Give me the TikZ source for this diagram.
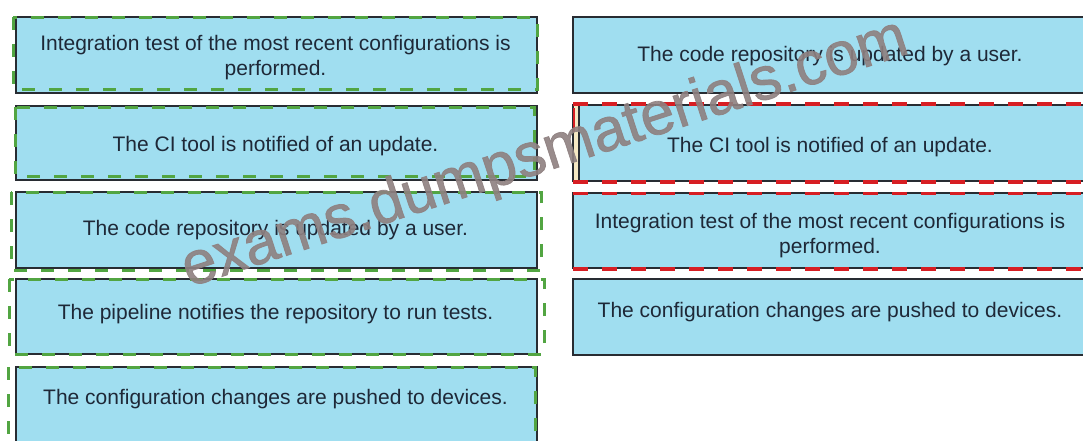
\documentclass[tikz,border=0pt]{standalone}
\usepackage{fontspec}
\setmainfont{Liberation Sans}
\newfontfamily\wmfont[FakeBold=1.2]{Liberation Sans}
\definecolor{cardfill}{RGB}{160,222,240}
\definecolor{cardline}{RGB}{40,44,50}
\definecolor{ink}{RGB}{30,40,55}
\definecolor{dashgreen}{RGB}{82,165,66}
\definecolor{dashred}{RGB}{215,30,35}
\definecolor{stripyellow}{RGB}{245,232,195}
\definecolor{wmgray}{RGB}{142,128,128}
\tikzset{
  card/.style={draw=cardline, fill=cardfill, line width=1.3pt, rectangle, inner sep=0pt},
  leftcard/.style={card, minimum width=521pt, minimum height=76pt},
  rightcard/.style={card, minimum width=514pt, minimum height=76pt},
  lbl/.style={text=ink, font=\fontsize{21}{25}\selectfont, inner sep=0pt, anchor=base, align=center},
  greendash/.style={draw=dashgreen, line width=3pt, dash pattern=on 13pt off 14pt},
  reddash/.style={draw=dashred, line width=3.4pt, dash pattern=on 15pt off 14pt},
  watermark/.style={text=wmgray, opacity=0.9, font=\wmfont\fontsize{61}{61}\selectfont, inner sep=0pt, anchor=base, rotate=18},
}
\begin{document}
\begin{tikzpicture}[x=1pt,y=-1pt]
\useasboundingbox (0,0) rectangle (1083,440);
\fill[white] (0,0) rectangle (1083,440);
\clip (0,0) rectangle (1083,440);

% left column
\node[leftcard] (L1) at (276.5,55) {};
\node[leftcard, minimum height=74pt] (L2) at (276.5,143) {};
\node[leftcard] (L3) at (276.5,230) {};
\node[leftcard, minimum height=75pt] (L4) at (276.5,316.5) {};
\node[leftcard] (L5) at (276.5,405) {};

\draw[greendash] (13,17) rectangle (537,89);
\draw[greendash] (15,107) rectangle (534,176);
\draw[greendash] (11,192) rectangle (541,270);
\draw[greendash] (9,279) rectangle (544,354);
\draw[greendash] (8,367) rectangle (535,446);

\node[lbl] (L1t) at (275.5,75) {Integration test of the most recent configurations is\\performed.};
\node[lbl] (L2t) at (275.5,151) {The CI tool is notified of an update.};
\node[lbl] (L3t) at (275.5,235) {The code repository is updated by a user.};
\node[lbl] (L4t) at (275.5,319) {The pipeline notifies the repository to run tests.};
\node[lbl] (L5t) at (275.5,404) {The configuration changes are pushed to devices.};

% right column
\node[rightcard] (R1) at (830,55) {};
\node[rightcard] (R2) at (830,143) {};
\node[rightcard, minimum height=75pt] (R3) at (830,230.5) {};
\node[rightcard] (R4) at (830,317) {};

\fill[stripyellow] (573.7,105.7) rectangle (579,180.3);
\draw[cardline, line width=1.3pt] (579,105) -- (579,181);
\draw[reddash] (573,104) -- (1092,104);
\draw[reddash] (573,182) -- (1092,182);
\draw[dashred, line width=2pt] (574,108) -- (574,132);
\draw[reddash] (573,193.5) -- (1092,193.5);
\draw[reddash] (573,269) -- (1092,269);

\node[lbl] (R1t) at (830,61) {The code repository is updated by a user.};
\node[lbl] (R2t) at (830,152) {The CI tool is notified of an update.};
\node[lbl] (R3t) at (830,253) {Integration test of the most recent configurations is\\performed.};
\node[lbl] (R4t) at (830,317) {The configuration changes are pushed to devices.};

% watermark
\node[watermark] (wm) at (550,170) {exams.dumpsmaterials.com};
\end{tikzpicture}
\end{document}
